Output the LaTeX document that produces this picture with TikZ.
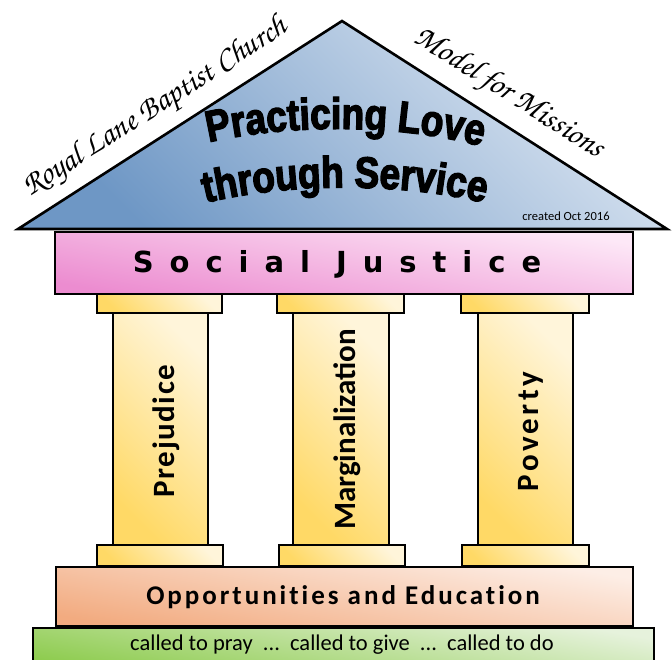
\documentclass[tikz,border=0pt]{standalone}
\usepackage{fontspec}
\usetikzlibrary{decorations.text}
\newfontfamily\calib{Carlito}
\newfontfamily\sjfont[LetterSpace=55]{DejaVu Sans Bold}
\newfontfamily\headfont[FakeBold=3,FakeStretch=0.84]{Liberation Sans Bold}
\newfontfamily\chorusfont{texgyrechorus-mediumitalic.otf}
\definecolor{roofL}{HTML}{DCE6F2}
\definecolor{roofD}{HTML}{6E97C5}
\definecolor{sjL}{HTML}{FDE8F7}
\definecolor{sjD}{HTML}{EC8CD0}
\definecolor{colL}{HTML}{FFF5DA}
\definecolor{colD}{HTML}{FFD966}
\definecolor{opL}{HTML}{FDEEE6}
\definecolor{opD}{HTML}{F2AB80}
\definecolor{grL}{HTML}{E6F2DC}
\definecolor{grD}{HTML}{8CCB4C}
\tikzset{
  outl/.style={draw=black, line width=2.6pt},
  box/.style={outl, rectangle, inner sep=0pt, outer sep=0pt},
  grad/.style n args={3}{top color=#1, bottom color=#2, shading angle=#3},
  colpart/.style={box, grad={colL}{colD}{-45}},
  scripttext/.style={font=\chorusfont\fontsize{32}{32}\selectfont},
  collabel/.style={rotate=90, anchor=base, inner sep=0pt},
}
\begin{document}
\begin{tikzpicture}[x=1pt,y=-1pt]
\useasboundingbox (0,0) rectangle (672,659);
\fill[white] (0,0) rectangle (672,659);
% roof
\draw[outl, line join=miter, grad={roofL}{roofD}{-45}]
  (18,229) coordinate (rl) -- (342,21) coordinate (ra) -- (667,229) coordinate (rr) -- cycle;
\node[scripttext, rotate=32.6] (church) at (156,108) {Royal Lane Baptist Church};
\node[scripttext, rotate=-32.4] (model) at (509,94) {Model for Missions};
\path[decorate, decoration={text along path, text align=center,
  text={|\headfont\fontsize{44}{44}\selectfont|Practicing Love}}]
  (190,147) .. controls (280,122) and (410,122) .. (500,152);
\path[decorate, decoration={text along path, text align=center,
  text={|\headfont\fontsize{44}{44}\selectfont|through Service}}]
  (190,207) .. controls (280,181) and (410,181) .. (500,207);
\node[font=\calib\fontsize{12.5}{14}\selectfont] (created) at (566,216) {created Oct 2016};
% columns: shafts
\node[colpart, minimum width=95, minimum height=232] (s1) at (160.5,429) {};
\node[colpart, minimum width=96, minimum height=232] (s2) at (341,429) {};
\node[colpart, minimum width=95, minimum height=232] (s3) at (525.5,429) {};
% top capitals
\node[colpart, minimum width=125, minimum height=19] (t1) at (159.5,303.5) {};
\node[colpart, minimum width=127, minimum height=19] (t2) at (340.5,303.5) {};
\node[colpart, minimum width=128, minimum height=19] (t3) at (525,303.5) {};
% bottom capitals
\node[colpart, minimum width=126, minimum height=21] (b1) at (160,555.5) {};
\node[colpart, minimum width=126, minimum height=21] (b2) at (342,555.5) {};
\node[colpart, minimum width=127, minimum height=21] (b3) at (525.5,555.5) {};
% column labels
\node[collabel, font=\calib\bfseries\fontsize{31}{31}\selectfont\addfontfeatures{LetterSpace=5}] (prej) at (174,431) {Prejudice};
\node[collabel, font=\calib\bfseries\fontsize{31}{31}\selectfont] (marg) at (355,429.5) {Marginalization};
\node[collabel, font=\calib\bfseries\fontsize{31}{31}\selectfont\addfontfeatures{LetterSpace=11}] (pov) at (538,431.5) {Poverty};
% social justice
\node[box, grad={sjL}{sjD}{-10}, minimum width=578, minimum height=62] (sj) at (344,263) {};
\node[font=\sjfont\fontsize{29}{29}\selectfont] (sjt) at (337,264) {Social Justice};
% opportunities
\node[box, grad={opL}{opD}{-10}, minimum width=577, minimum height=59] (op) at (344.5,596.5) {};
\node[anchor=base, inner sep=0pt, font=\calib\bfseries\fontsize{27}{27}\selectfont\addfontfeatures{LetterSpace=11,Ligatures=NoCommon}] (opt) at (343,604) {Opportunities and Education};
% green base
\node[box, grad={grL}{grD}{-10}, minimum width=621, minimum height=44] (gr) at (343.5,650) {};
\node[anchor=base, inner sep=0pt, font=\calib\fontsize{22.5}{22.5}\selectfont] (grt) at (342,650) {called to pray\ \ ...\ \ called to give\ \ ...\ \ called to do};
\end{tikzpicture}
\end{document}
